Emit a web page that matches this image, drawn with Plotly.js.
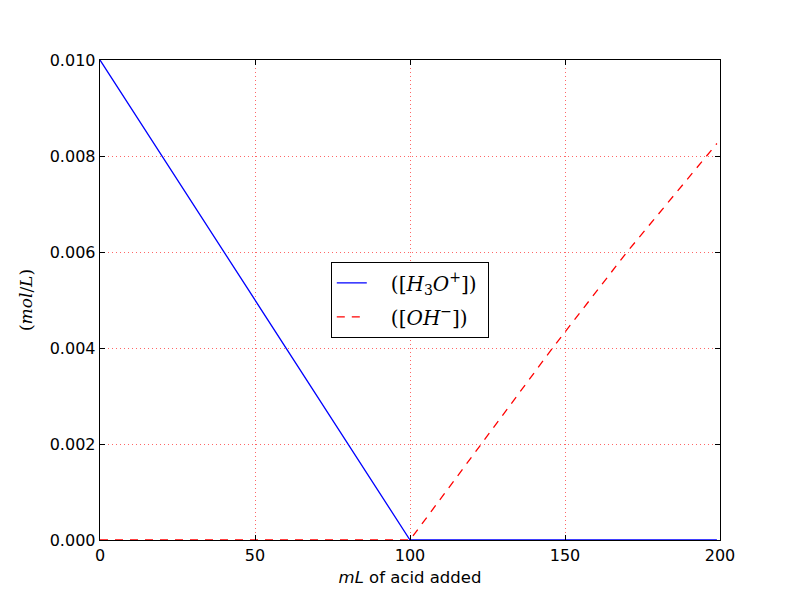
<!DOCTYPE html>
<html>
<head>
<meta charset="utf-8">
<script src="https://cdn.plot.ly/plotly-3.0.1.min.js"></script>
<style>html,body{margin:0;padding:0;background:#fff;}#chart{width:800px;height:600px;}</style>
</head>
<body>
<div id="chart"></div>
<script>
// Data
const h3oX = [0, 100, 199];
const h3oY = [0.010, 0.0, 0.0];
const ohX = [0, 100, 123, 146, 170, 195.5, 199];
const ohY = [0.0, 0.0, 0.002, 0.004, 0.006, 0.008, 0.00826];
const xTicks = [0, 50, 100, 150, 200];
const yTicks = [0.000, 0.002, 0.004, 0.006, 0.008, 0.010];
const pad = '\u00a0\u00a0\u00a0';
const h3oName = pad + '([<i>H</i><sub>3</sub><i>O</i><sup>+</sup>])' + '\u00a0';
const ohName = pad + '([<i>OH</i><sup>\u2212</sup>])' + '\u00a0';

const traces = [
  {x: h3oX, y: h3oY, mode: 'lines', name: h3oName, legendgroup: 'a',
   line: {color: '#0000ff', width: 1.3}},
  {x: ohX, y: ohY, mode: 'lines', name: ohName, legendgroup: 'b',
   line: {color: '#ff0000', width: 1.3, dash: '8px,7px'}}
];

const axisCommon = {
  showline: true, linecolor: '#000', linewidth: 1.3, mirror: 'allticks',
  ticks: 'inside', ticklen: 5, tickwidth: 1, tickcolor: '#000',
  showgrid: true, gridcolor: 'rgba(255,0,0,0.6)', griddash: '1px,3px', gridwidth: 1,
  zeroline: false,
  tickfont: {family: 'DejaVu Sans', size: 16, color: '#000'}
};

const layout = {
  width: 800, height: 600,
  margin: {l: 100, r: 80, t: 60, b: 60},
  paper_bgcolor: '#fff', plot_bgcolor: '#fff',
  showlegend: true,
  legend: {
    x: 0.5, y: 0.5, xanchor: 'center', yanchor: 'middle',
    bordercolor: '#000', borderwidth: 1.3, bgcolor: '#fff',
    font: {family: 'DejaVu Serif', size: 20, color: '#000'},
    itemwidth: 30, tracegroupgap: 5
  },
  xaxis: Object.assign({}, axisCommon, {
    range: [0, 200], tickvals: xTicks, ticktext: xTicks.map(String),
    title: {text: '<i>mL</i> of acid added',
            font: {family: 'DejaVu Sans', size: 16.5, color: '#000'}, standoff: 8}
  }),
  yaxis: Object.assign({}, axisCommon, {
    range: [0, 0.010], tickvals: yTicks, ticktext: yTicks.map(v => v.toFixed(3)),
    title: {text: '(<i>mol</i>/<i>L</i>)',
            font: {family: 'DejaVu Serif', size: 17, color: '#000'}, standoff: 12}
  })
};

Plotly.newPlot('chart', traces, layout, {displayModeBar: false, staticPlot: true});
</script>
</body>
</html>
